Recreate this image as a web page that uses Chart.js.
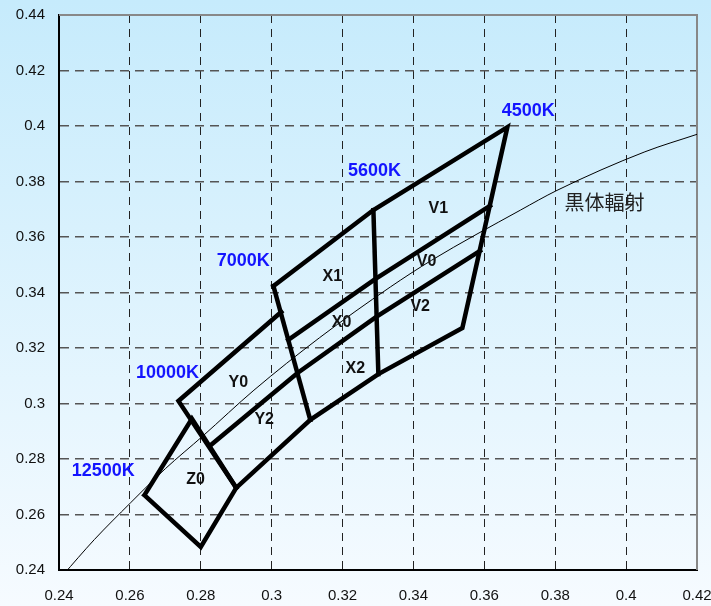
<!DOCTYPE html>
<html>
<head>
<meta charset="utf-8">
<script src="https://cdn.jsdelivr.net/npm/chart.js@4"></script>
<style>
  html, body { margin: 0; padding: 0; }
  #wrap { width: 711px; height: 606px; }
</style>
</head>
<body>
<div id="wrap"><canvas id="grafico"></canvas></div>
<script>
// chromaticity bins (x, y)

var xTicks = [0.24, 0.26, 0.28, 0.3, 0.32, 0.34, 0.36, 0.38, 0.4, 0.42];
var yTicks = [0.24, 0.26, 0.28, 0.3, 0.32, 0.34, 0.36, 0.38, 0.4, 0.42, 0.44];

var z0Box = [[0.2641, 0.2670], [0.2775, 0.2945], [0.2900, 0.2696], [0.2800, 0.2483], [0.2641, 0.2670]];
var y0Edge = [[0.3027, 0.3330], [0.2737, 0.3009], [0.2900, 0.2696]];
var line7000 = [[0.3005, 0.3423], [0.3109, 0.2941]];
var outline = [[0.3005, 0.3423], [0.3287, 0.3697], [0.3665, 0.3996], [0.3538, 0.3272],
               [0.3301, 0.3106], [0.3109, 0.2941], [0.2900, 0.2696]];
var line5600 = [[0.3287, 0.3697], [0.3301, 0.3106]];
var dividerA = [[0.3047, 0.3229], [0.3293, 0.3449], [0.3616, 0.3712]];
var dividerB = [[0.2825, 0.2847], [0.3073, 0.3110], [0.3295, 0.3312], [0.3588, 0.3550]];

var blackbody = [[0.2410, 0.2380], [0.2500, 0.2510], [0.2601, 0.2641], [0.2700, 0.2765],
                 [0.2806, 0.2883], [0.2950, 0.3048], [0.3135, 0.3237], [0.3335, 0.3420],
                 [0.3451, 0.3516], [0.3702, 0.3697], [0.3805, 0.3768], [0.4053, 0.3907],
                 [0.4200, 0.3970]];

var tempLabels = [['4500K', 0.3724, 0.4054], ['5600K', 0.3290, 0.3838], ['7000K', 0.2920, 0.3513],
                  ['10000K', 0.2706, 0.3110], ['12500K', 0.2525, 0.2757]];
var binLabels = [['V1', 0.3470, 0.3701], ['V0', 0.3437, 0.3510], ['V2', 0.3419, 0.3348],
                 ['X1', 0.3171, 0.3456], ['X0', 0.3197, 0.3290], ['X2', 0.3236, 0.3124],
                 ['Y0', 0.2906, 0.3077], ['Y2', 0.2979, 0.2941], ['Z0', 0.2785, 0.2724]];
var curveLabel = ['黒体輻射', 0.3939, 0.3723];

function pts(a) {
    return a.map(function (p) { return { x: p[0], y: p[1] }; });
}

function thick(d) {
    return { data: pts(d), showLine: true, borderColor: '#000', borderWidth: 4.5,
             pointRadius: 0, tension: 0, borderJoinStyle: 'miter', borderCapStyle: 'square' };
}

var tickFont = { family: '"Liberation Sans", Arial, sans-serif', size: 15 };

var fundo = {
    id: 'fundo',
    beforeDraw: function (chart) {
        var c = chart.ctx;
        var g = c.createLinearGradient(0, 0, 0, chart.height);
        g.addColorStop(0, '#c6ebfc');
        g.addColorStop(1, '#f6fbff');
        c.save();
        c.fillStyle = g;
        c.fillRect(0, 0, chart.width, chart.height);
        c.restore();
    },
    beforeDatasetsDraw: function (chart) {
        var a = chart.chartArea, c = chart.ctx;
        c.save();
        c.strokeStyle = '#888';
        c.lineWidth = 2;
        c.beginPath();
        c.moveTo(a.left, a.top);
        c.lineTo(a.right, a.top);
        c.lineTo(a.right, a.bottom);
        c.stroke();
        c.restore();
    }
};

var rotulos = {
    id: 'rotulos',
    afterDatasetsDraw: function (chart) {
        var c = chart.ctx, sx = chart.scales.x, sy = chart.scales.y;
        c.save();
        c.textAlign = 'center';
        c.textBaseline = 'middle';
        c.fillStyle = '#1414ff';
        c.font = 'bold 18px "Liberation Sans", Arial, sans-serif';
        tempLabels.forEach(function (l) {
            c.fillText(l[0], sx.getPixelForValue(l[1]), sy.getPixelForValue(l[2]));
        });
        c.fillStyle = '#111';
        c.font = 'bold 16px "Liberation Sans", Arial, sans-serif';
        binLabels.forEach(function (l) {
            c.fillText(l[0], sx.getPixelForValue(l[1]), sy.getPixelForValue(l[2]));
        });
        c.fillStyle = '#222';
        c.font = '20px "Noto Sans CJK JP", sans-serif';
        c.fillText(curveLabel[0], sx.getPixelForValue(curveLabel[1]), sy.getPixelForValue(curveLabel[2]));
        c.restore();
    }
};

var ctx = document.getElementById('grafico');
var myChart = new Chart(ctx, {
    type: 'scatter',
    data: {
        datasets: [
            { data: pts(blackbody), showLine: true, borderColor: '#000', borderWidth: 1,
              pointRadius: 0, cubicInterpolationMode: 'monotone' },
            thick(z0Box),
            thick(y0Edge),
            thick(line7000),
            thick(outline),
            thick(line5600),
            thick(dividerA),
            thick(dividerB)
        ]
    },
    options: {
        responsive: true,
        maintainAspectRatio: false,
        animation: false,
        events: [],
        layout: { padding: { top: 15, right: 14, left: 0, bottom: 0 } },
        plugins: {
            legend: { display: false },
            tooltip: { enabled: false }
        },
        scales: {
            x: {
                type: 'linear',
                min: 0.24,
                max: 0.42,
                afterBuildTicks: function (s) { s.ticks = xTicks.map(function (v) { return { value: v }; }); },
                afterFit: function (s) { s.height = 36; s.paddingLeft = 0; s.paddingRight = 0; },
                ticks: {
                    padding: 17,
                    color: '#111',
                    maxRotation: 0,
                    font: tickFont,
                    callback: function (v) { return String(Math.round(v * 100) / 100); }
                },
                grid: { color: '#222', lineWidth: 1, drawTicks: false },
                border: { color: '#000', width: 2, dash: [8, 6] }
            },
            y: {
                type: 'linear',
                min: 0.24,
                max: 0.44,
                afterBuildTicks: function (s) { s.ticks = yTicks.map(function (v) { return { value: v }; }); },
                afterFit: function (s) { s.width = 59; s.paddingTop = 0; s.paddingBottom = 0; },
                ticks: {
                    padding: 14,
                    color: '#111',
                    font: tickFont,
                    callback: function (v) { return String(Math.round(v * 100) / 100); }
                },
                grid: { color: '#555', lineWidth: 1.5, drawTicks: false },
                border: { color: '#000', width: 2, dash: [9, 6] }
            }
        }
    },
    plugins: [fundo, rotulos]
});
</script>
</body>
</html>
